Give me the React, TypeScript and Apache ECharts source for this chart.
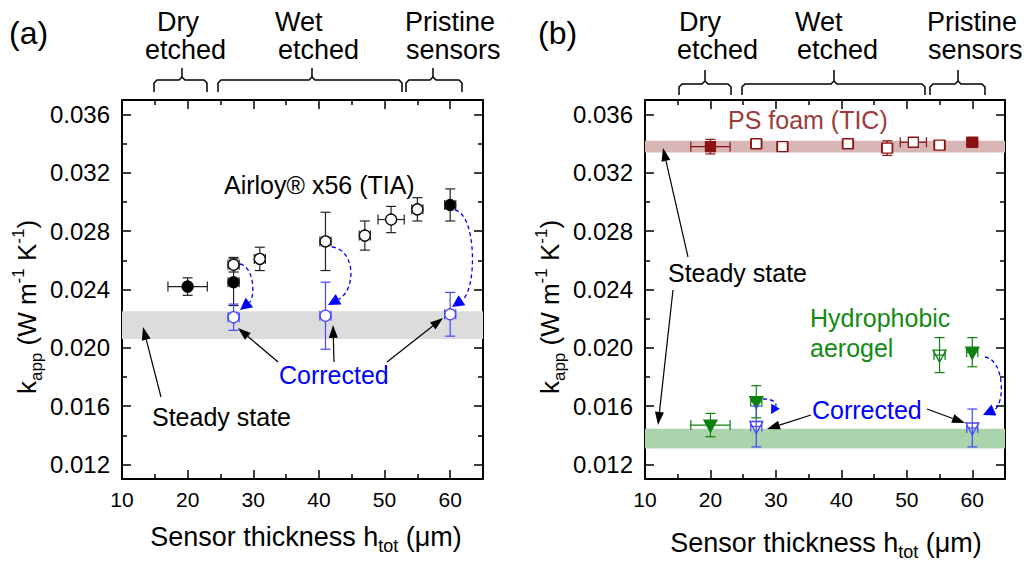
import React, { useEffect, useRef } from "react";
import * as echarts from "echarts";

const FF = "'Liberation Sans', Arial, Helvetica, sans-serif";

// Axis ticks / labels
const xMajorTicks = [10, 20, 30, 40, 50, 60];
const xMinorTicks = [15, 25, 35, 45, 55];
const yMajorTicks = [0.012, 0.016, 0.02, 0.024, 0.028, 0.032, 0.036];
const yMinorTicks = [0.014, 0.018, 0.022, 0.026, 0.03, 0.034];

// Panel (a) Airloy x56: [thickness (µm), k_app, xErr, yErr]
const airloyFilled = [
  [20, 0.0242, 3, 0.0006],
  [27, 0.0245, 0.85, 0.0016],
  [60, 0.0298, 0.85, 0.0011],
];
const airloyOpen = [
  [27, 0.0257, 0.85, 0.0005],
  [31, 0.0261, 0.85, 0.0008],
  [41, 0.0273, 0.85, 0.002],
  [47, 0.0277, 0.85, 0.001],
  [51, 0.0288, 2, 0.0009],
  [55, 0.0295, 0.85, 0.0008],
];
const airloyCorrected = [
  [27, 0.0221, 0.85, 0.0009],
  [41, 0.0222, 0.85, 0.0023],
  [60, 0.0223, 0.85, 0.0015],
];
const airloySteady = [[0.0206, 0.0225]];

// Panel (b) PS foam (TIC)
const psFilled = [
  [20, 0.0338, 3, 0.0005],
  [60, 0.0341, 0.85, 0.0002],
];
const psOpen = [
  [27, 0.034, 0.85, 0.0002],
  [31, 0.0338, 0.85, 0.0003],
  [41, 0.034, 0.85, 0.0003],
  [47, 0.0337, 0.85, 0.0005],
  [51, 0.0341, 2, 0.0002],
  [55, 0.0339, 0.85, 0.0002],
];
const psSteady = [[0.0334, 0.0342]];

// Panel (b) hydrophobic aerogel
const aeroFilled = [
  [20, 0.0147, 3, 0.0008],
  [27, 0.0163, 0.85, 0.0011],
  [60, 0.0197, 0.85, 0.001],
];
const aeroOpen = [[55, 0.0195, 0.85, 0.0012]];
const aeroCorrected = [
  [27, 0.0146, 0.85, 0.0014],
  [60, 0.0145, 0.85, 0.0013],
];
const aeroSteady = [[0.0131, 0.01445]];

const BLUE = "#0000ff";
const BLUE_PT = "#4646ff";
const RED = "#8b1212";
const RED_TXT = "#9b3b3b";
const GREEN = "#0d800d";
const GREEN_TXT = "#138a13";
const ZTOP = 100;

type Marker = "circle" | "square" | "triDown";

function pointRenderer(marker: Marker, color: string, filled: boolean, errColor: string) {
  return (_params: any, api: any) => {
    const x = api.value(0), y = api.value(1), xe = api.value(2), ye = api.value(3);
    const c = api.coord([x, y]);
    const t = api.coord([x, y + ye]);
    const b = api.coord([x, y - ye]);
    const l = api.coord([x - xe, y]);
    const r = api.coord([x + xe, y]);
    const cap = 5;
    const ls = { stroke: errColor, lineWidth: 1.2 };
    const children: any[] = [
      { type: "line", shape: { x1: c[0], y1: t[1], x2: c[0], y2: b[1] }, style: ls },
      { type: "line", shape: { x1: c[0] - cap, y1: t[1], x2: c[0] + cap, y2: t[1] }, style: ls },
      { type: "line", shape: { x1: c[0] - cap, y1: b[1], x2: c[0] + cap, y2: b[1] }, style: ls },
      { type: "line", shape: { x1: l[0], y1: c[1], x2: r[0], y2: c[1] }, style: ls },
    ];
    const ms: any = { fill: filled ? color : "#ffffff", stroke: color, lineWidth: 1.3 };
    if (marker === "circle") {
      children.push({ type: "circle", shape: { cx: c[0], cy: c[1], r: 5.5 }, style: ms });
    } else if (marker === "square") {
      children.push({ type: "rect", shape: { x: c[0] - 5, y: c[1] - 5, width: 10, height: 10 }, style: ms });
    } else {
      ms.fill = filled ? color : "none";
      children.push({
        type: "polygon",
        shape: { points: [[c[0] - 6.5, c[1] - 5], [c[0] + 6.5, c[1] - 5], [c[0], c[1] + 7]] },
        style: ms,
      });
    }
    children.push({ type: "line", shape: { x1: l[0], y1: c[1] - cap, x2: l[0], y2: c[1] + cap }, style: ls });
    children.push({ type: "line", shape: { x1: r[0], y1: c[1] - cap, x2: r[0], y2: c[1] + cap }, style: ls });
    return { type: "group", children };
  };
}

function bandRenderer(color: string) {
  return (_params: any, api: any) => {
    const lo = api.value(0), hi = api.value(1);
    const p1 = api.coord([10, hi]);
    const p2 = api.coord([65, lo]);
    return {
      type: "rect",
      shape: { x: p1[0], y: p1[1], width: p2[0] - p1[0], height: p2[1] - p1[1] },
      style: { fill: color },
    };
  };
}

function makeXAxes(gridIndex: number) {
  const base = { gridIndex, type: "value", min: 10, max: 65, splitLine: { show: false } };
  const line = { show: true, onZero: false, lineStyle: { color: "#000", width: 2 } };
  const tickStyle = { color: "#000", width: 1.5 };
  return [
    {
      ...base, position: "bottom", axisLine: line,
      axisTick: { show: true, inside: true, length: 9, customValues: xMajorTicks, lineStyle: tickStyle },
      axisLabel: { show: true, customValues: xMajorTicks, fontSize: 21, fontFamily: FF, color: "#000", margin: 10 },
    },
    {
      ...base, position: "bottom", axisLine: { show: false },
      axisTick: { show: true, inside: true, length: 5, customValues: xMinorTicks, lineStyle: tickStyle },
      axisLabel: { show: false },
    },
    {
      ...base, position: "top", axisLine: line,
      axisTick: { show: true, inside: true, length: 9, customValues: xMajorTicks, lineStyle: tickStyle },
      axisLabel: { show: false },
    },
    {
      ...base, position: "top", axisLine: { show: false },
      axisTick: { show: true, inside: true, length: 5, customValues: xMinorTicks, lineStyle: tickStyle },
      axisLabel: { show: false },
    },
  ];
}

function makeYAxes(gridIndex: number) {
  const base = { gridIndex, type: "value", min: 0.011, max: 0.037, splitLine: { show: false } };
  const line = { show: true, onZero: false, lineStyle: { color: "#000", width: 2 } };
  const tickStyle = { color: "#000", width: 1.5 };
  return [
    {
      ...base, position: "left", axisLine: line,
      axisTick: { show: true, inside: true, length: 9, customValues: yMajorTicks, lineStyle: tickStyle },
      axisLabel: {
        show: true, customValues: yMajorTicks, fontSize: 24, fontFamily: FF, color: "#000", margin: 12,
        formatter: (v: number) => v.toFixed(3),
      },
    },
    {
      ...base, position: "left", axisLine: { show: false },
      axisTick: { show: true, inside: true, length: 5, customValues: yMinorTicks, lineStyle: tickStyle },
      axisLabel: { show: false },
    },
    {
      ...base, position: "right", axisLine: line,
      axisTick: { show: true, inside: true, length: 9, customValues: yMajorTicks, lineStyle: tickStyle },
      axisLabel: { show: false },
    },
    {
      ...base, position: "right", axisLine: { show: false },
      axisTick: { show: true, inside: true, length: 5, customValues: yMinorTicks, lineStyle: tickStyle },
      axisLabel: { show: false },
    },
  ];
}

function pointSeries(name: string, data: number[][], g: number, marker: Marker, color: string, filled: boolean, errColor: string) {
  return {
    name, type: "custom", xAxisIndex: g * 4, yAxisIndex: g * 4, z: 5,
    renderItem: pointRenderer(marker, color, filled, errColor),
    data, clip: false, silent: true,
  };
}

function bandSeries(name: string, data: number[][], g: number, color: string) {
  return {
    name, type: "custom", xAxisIndex: g * 4, yAxisIndex: g * 4, z: 1,
    renderItem: bandRenderer(color),
    encode: { x: [], y: [0, 1] },
    data, silent: true,
  };
}

function txt(s: string, x: number, y: number, size: number, color = "#000") {
  return {
    type: "text", x, y, silent: true, z: ZTOP,
    style: { text: s, fontSize: size, fontFamily: FF, fill: color, align: "left", verticalAlign: "middle" },
  };
}

function arrow(x1: number, y1: number, x2: number, y2: number, color = "#000", head = 13, hw = 4.5) {
  const dx = x2 - x1, dy = y2 - y1;
  const L = Math.hypot(dx, dy);
  const ux = dx / L, uy = dy / L;
  const bx = x2 - ux * head, by = y2 - uy * head;
  return [
    { type: "line", silent: true, z: ZTOP, shape: { x1, y1, x2: bx, y2: by }, style: { stroke: color, lineWidth: 1.2 } },
    {
      type: "polygon", silent: true, z: ZTOP,
      shape: { points: [[x2, y2], [bx - uy * hw, by + ux * hw], [bx + uy * hw, by - ux * hw]] },
      style: { fill: color },
    },
  ];
}

function curvedArrow(x1: number, y1: number, c1x: number, c1y: number, c2x: number, c2y: number, tx: number, ty: number, head = 12, hw = 6) {
  const dx = tx - c2x, dy = ty - c2y;
  const L = Math.hypot(dx, dy);
  const ux = dx / L, uy = dy / L;
  const bx = tx - ux * head, by = ty - uy * head;
  return [
    {
      type: "bezierCurve", silent: true, z: ZTOP,
      shape: { x1, y1, cpx1: c1x, cpy1: c1y, cpx2: c2x, cpy2: c2y, x2: bx, y2: by },
      style: { stroke: BLUE, lineWidth: 1.3, lineDash: [4, 3], fill: "none" },
    },
    {
      type: "polygon", silent: true, z: ZTOP,
      shape: { points: [[tx, ty], [bx - uy * hw, by + ux * hw], [bx + uy * hw, by - ux * hw]] },
      style: { fill: BLUE },
    },
  ];
}

function bracket(x1: number, x2: number, xp: number, yb: number, yh: number, yt: number) {
  const st = { stroke: "#000", lineWidth: 1.5, fill: "none" };
  return [
    {
      type: "polyline", silent: true, z: ZTOP,
      shape: { points: [[x1, yb], [x1, yh + 3], [x1 + 3, yh], [xp - 3, yh], [xp, yh - 3], [xp, yt]] },
      style: st,
    },
    {
      type: "polyline", silent: true, z: ZTOP,
      shape: { points: [[xp, yh - 3], [xp + 3, yh], [x2 - 3, yh], [x2, yh + 3], [x2, yb]] },
      style: st,
    },
  ];
}

function yTitle(x: number, y: number) {
  const m = { fontSize: 26, fontFamily: FF, fill: "#000", lineHeight: 35 };
  const small = { fontSize: 17, fontFamily: FF, fill: "#000", lineHeight: 17 };
  return {
    type: "text", x, y, rotation: Math.PI / 2, silent: true, z: ZTOP,
    style: {
      text: "{m|k}{s|app}{m| (W m}{p|-1}{m| K}{p|-1}{m|)}",
      rich: { m, s: { ...small, verticalAlign: "bottom" }, p: { ...small, verticalAlign: "top" } },
      align: "center", verticalAlign: "middle",
    },
  };
}

function xTitle(x: number, y: number) {
  const m = { fontSize: 27, fontFamily: FF, fill: "#000", lineHeight: 35 };
  return {
    type: "text", x, y, silent: true, z: ZTOP,
    style: {
      text: "{m|Sensor thickness h}{s|tot}{m| (\u03bcm)}",
      rich: { m, s: { fontSize: 18, fontFamily: FF, fill: "#000", lineHeight: 18, verticalAlign: "bottom" } },
      align: "center", verticalAlign: "middle",
    },
  };
}

function buildGraphic() {
  const els: any[] = [];
  const TL = 27;
  // Panel a
  els.push(txt("(a)", 9, 33, 32));
  els.push(txt("Dry", 157, 22, TL), txt("etched", 145, 50, TL));
  els.push(txt("Wet", 275, 22, TL), txt("etched", 278, 50, TL));
  els.push(txt("Pristine", 405, 22, TL), txt("sensors", 406, 50, TL));
  els.push(...bracket(154, 207, 182, 92, 80, 68));
  els.push(...bracket(218, 402, 312, 92, 80, 68));
  els.push(...bracket(406, 462, 433, 92, 80, 68));
  els.push(txt("Airloy\u00ae x56 (TIA)", 224, 185, 25));
  els.push(txt("Corrected", 279, 375, 25, BLUE));
  els.push(txt("Steady state", 152, 417, 25));
  els.push(...arrow(161, 397, 143, 327));
  els.push(...arrow(278, 362, 238, 328));
  els.push(...arrow(334, 362, 333, 325));
  els.push(...arrow(387, 362, 443, 318));
  els.push(...curvedArrow(240, 264, 255, 267, 255, 298, 240, 310));
  els.push(...curvedArrow(332, 247, 356, 250, 356, 290, 328, 305));
  els.push(...curvedArrow(455, 210, 477, 215, 477, 290, 452, 307));
  els.push(yTitle(27, 307));
  els.push(xTitle(306, 537));

  // Panel b
  els.push(txt("(b)", 538, 33, 32));
  els.push(txt("Dry", 679, 22, TL), txt("etched", 677, 50, TL));
  els.push(txt("Wet", 795, 22, TL), txt("etched", 797, 50, TL));
  els.push(txt("Pristine", 927, 22, TL), txt("sensors", 928, 50, TL));
  els.push(...bracket(679, 731, 705, 95, 84, 70));
  els.push(...bracket(742, 925, 834, 95, 84, 70));
  els.push(...bracket(930, 985, 958, 95, 84, 70));
  els.push(txt("PS foam (TIC)", 728, 120, 25, RED_TXT));
  els.push(txt("Steady state", 668, 273, 25));
  els.push(txt("Hydrophobic", 810, 318, 25, GREEN_TXT));
  els.push(txt("aerogel", 810, 348, 25, GREEN_TXT));
  els.push(txt("Corrected", 812, 410, 25, BLUE));
  els.push(...arrow(688, 257, 663, 148));
  els.push(...arrow(673, 290, 658, 425));
  els.push(...arrow(811, 415, 767, 429));
  els.push(...arrow(927, 409, 965, 423));
  els.push(...curvedArrow(763, 399, 775, 399, 777, 404, 771, 414, 9, 5));
  els.push(...curvedArrow(985, 357, 1005, 360, 1005, 405, 983, 415));
  els.push(yTitle(550, 307));
  els.push(xTitle(826, 543));
  return els;
}

export default function App() {
  const ref = useRef<HTMLDivElement>(null);
  useEffect(() => {
    const chart = echarts.init(ref.current!, null, { renderer: "svg" });
    const option: any = {
      animation: false,
      backgroundColor: "#ffffff",
      grid: [
        { left: 122, top: 100, width: 361, height: 379 },
        { left: 645, top: 100, width: 360, height: 379 },
      ],
      xAxis: [...makeXAxes(0), ...makeXAxes(1)],
      yAxis: [...makeYAxes(0), ...makeYAxes(1)],
      series: [
        bandSeries("Airloy steady state", airloySteady, 0, "#dcdcdc"),
        pointSeries("Airloy (filled)", airloyFilled, 0, "circle", "#000", true, "#222"),
        pointSeries("Airloy (open)", airloyOpen, 0, "circle", "#000", false, "#222"),
        pointSeries("Airloy corrected", airloyCorrected, 0, "circle", BLUE_PT, false, BLUE_PT),
        bandSeries("PS foam steady state", psSteady, 1, "#d8b6b6"),
        bandSeries("Aerogel steady state", aeroSteady, 1, "#acd4ac"),
        pointSeries("PS foam (filled)", psFilled, 1, "square", RED, true, RED),
        pointSeries("PS foam (open)", psOpen, 1, "square", RED, false, RED),
        pointSeries("Aerogel (filled)", aeroFilled, 1, "triDown", GREEN, true, GREEN),
        pointSeries("Aerogel (open)", aeroOpen, 1, "triDown", GREEN, false, GREEN),
        pointSeries("Aerogel corrected", aeroCorrected, 1, "triDown", BLUE_PT, false, BLUE_PT),
      ],
      graphic: buildGraphic(),
    };
    chart.setOption(option);
    return () => chart.dispose();
  }, []);
  return <div ref={ref} style={{ position: "absolute", left: 0, top: 0, width: 1024, height: 561 }} />;
}
